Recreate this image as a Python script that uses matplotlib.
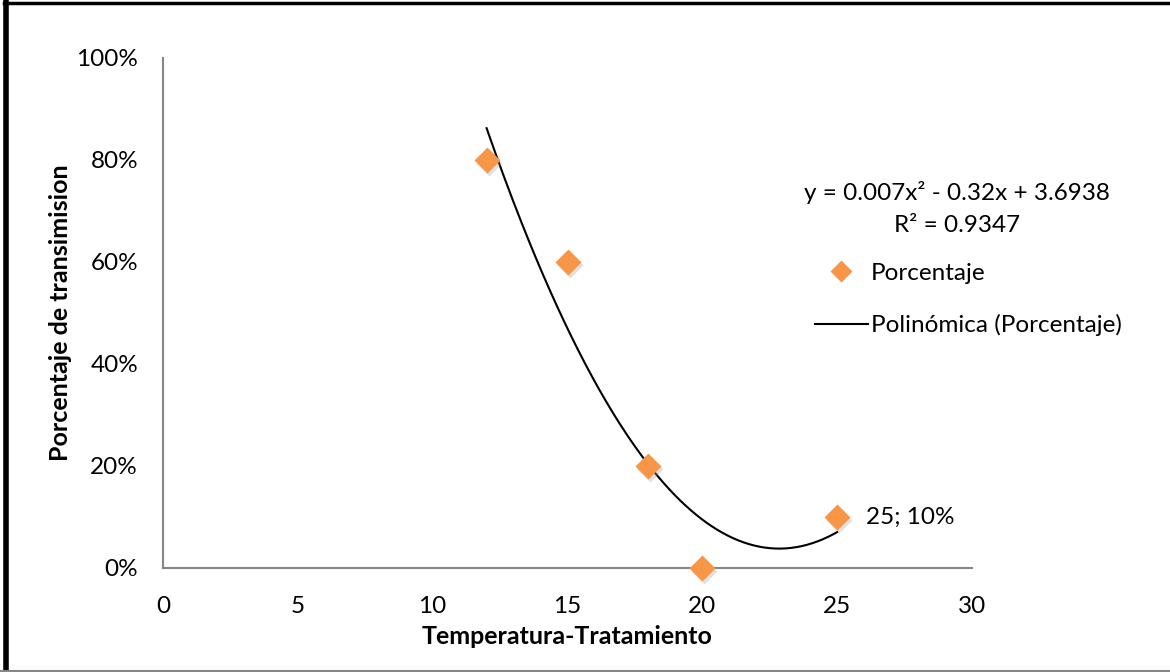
import numpy as np
import matplotlib
matplotlib.use("Agg")
from matplotlib import pyplot as plt
from matplotlib.lines import Line2D

plt.rcParams["font.family"] = ["Lato", "DejaVu Sans"]

temperatura = [12, 15, 18, 20, 25]
porcentaje = [0.80, 0.60, 0.20, 0.00, 0.10]
x_ticks = [0, 5, 10, 15, 20, 25, 30]
y_ticks = [0.0, 0.2, 0.4, 0.6, 0.8, 1.0]
ecuacion = "y = 0.007x² - 0.32x + 3.6938"
r2_texto = "R² = 0.9347"

NARANJA = "#F79646"
GRIS = "#868686"
FS = 17.5

fig = plt.figure(figsize=(11.7, 6.72), dpi=100)
ax = fig.add_axes([163 / 1170, 1 - 568 / 672, (972 - 163) / 1170, (568 - 58) / 672])

# trend line (second order fit of the points)
coef = np.polyfit(temperatura, porcentaje, 2)
xs = np.linspace(min(temperatura), max(temperatura), 200)
ax.plot(xs, np.polyval(coef, xs), color="black", lw=1.5, zorder=2)

# points with a soft shadow
sombra = matplotlib.transforms.offset_copy(ax.transData, fig=fig, x=1.5, y=-2.5, units="points")
ax.plot(temperatura, porcentaje, "D", ms=13.5, color="#999999", alpha=0.3, mec="none",
        transform=sombra, zorder=3, clip_on=False)
ax.plot(temperatura, porcentaje, "D", ms=13.5, color=NARANJA, mec="none", zorder=4, clip_on=False)

ax.annotate("25; 10%", (temperatura[-1], porcentaje[-1]), xytext=(21, 0),
            textcoords="offset points", va="center", ha="left", fontsize=FS)

ax.set_xlim(0, 30)
ax.set_ylim(0, 1)
ax.set_xticks(x_ticks)
ax.set_yticks(y_ticks, labels=[f"{int(round(v * 100))}%" for v in y_ticks])
ax.tick_params(length=0, labelsize=FS)
ax.tick_params(axis="y", pad=18)
ax.tick_params(axis="x", pad=20)
for lado in ["top", "right"]:
    ax.spines[lado].set_visible(False)
for lado in ["left", "bottom"]:
    ax.spines[lado].set_color(GRIS)
    ax.spines[lado].set_linewidth(1.5)

ax.set_xlabel("Temperatura-Tratamiento", fontsize=18, fontweight="bold", labelpad=6)
ax.set_ylabel("Porcentaje de transimision", fontsize=18, fontweight="bold", labelpad=3)

fig.text(957 / 1170, 1 - 193 / 672, ecuacion, ha="center", va="center", fontsize=FS)
fig.text(957 / 1170, 1 - 226 / 672, r2_texto, ha="center", va="center", fontsize=FS)

handles = [
    Line2D([], [], marker="D", ls="none", ms=11, color=NARANJA, mec="none"),
    Line2D([], [], color="black", lw=1.5),
]
fig.legend(handles, ["Porcentaje", "Polinómica (Porcentaje)"], loc="upper left",
           bbox_to_anchor=(805 / 1170, 1 - 253 / 672), frameon=False, fontsize=FS,
           handlelength=2.2, handletextpad=0.1, labelspacing=1.25, borderaxespad=0)

# outer frame
fig.add_artist(Line2D([6 / 1170, 6 / 1170], [0, 1 - 2 / 672], color="black", lw=4,
                      transform=fig.transFigure))
fig.add_artist(Line2D([4 / 1170, 1], [1 - 3 / 672, 1 - 3 / 672], color="black", lw=2.5,
                      transform=fig.transFigure))
fig.add_artist(Line2D([0, 1], [1.5 / 672, 1.5 / 672], color=GRIS, lw=1.5,
                      transform=fig.transFigure))

fig.savefig("out.png", dpi=100)
